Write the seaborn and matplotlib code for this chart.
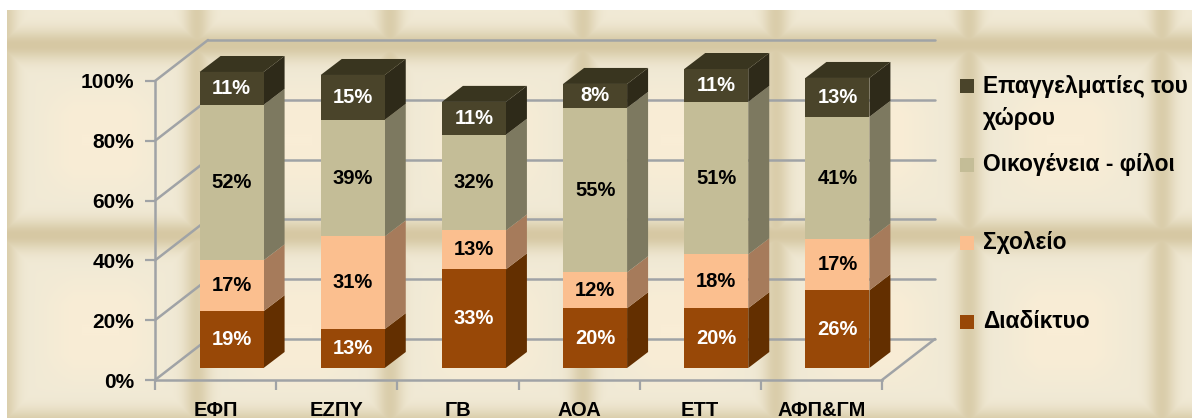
import numpy as np
import matplotlib
matplotlib.use("Agg")
import matplotlib.pyplot as plt
from matplotlib.patches import Polygon, Rectangle
import seaborn as sns

categories = ["ΕΦΠ", "ΕΖΠΥ", "ΓΒ", "ΑΟΑ", "ΕΤΤ", "ΑΦΠ&ΓΜ"]
diadiktyo = [19, 13, 33, 20, 20, 26]
scholeio = [17, 31, 13, 12, 18, 17]
oikogeneia = [52, 39, 32, 55, 51, 41]
epaggelmaties = [11, 15, 11, 8, 11, 13]
y_ticks = [0, 20, 40, 60, 80, 100]
tick_labels = ["0%", "20%", "40%", "60%", "80%", "100%"]

series = [
    ("Διαδίκτυο", diadiktyo, "#984807", "#632F00", "white"),
    ("Σχολείο", scholeio, "#FBBF8F", "#A67B5B", "black"),
    ("Οικογένεια - φίλοι", oikogeneia, "#C4BD97", "#7D7960", "black"),
    ("Επαγγελματίες του\nχώρου", epaggelmaties, "#4A442A", "#2E2A19", "white"),
]
top_color = "#39351F"
grid_color = "#A0A3A6"
FONT = ["Liberation Sans", "DejaVu Sans"]

W, H = 1192, 418
sns.set_theme(style="white")
plt.rcParams["font.family"] = FONT
plt.rcParams["font.weight"] = "bold"
fig = plt.figure(figsize=(W / 100, H / 100), dpi=100, facecolor="white")


def rect(x0, y_top, x1, y_bot):
    return [x0 / W, 1 - y_bot / H, (x1 - x0) / W, (y_bot - y_top) / H]


# --- parchment background
bg = fig.add_axes(rect(7, 10, W, H))
bg.set_axis_off()
xx = np.arange(7, W) + 0.5
yy = np.arange(10, H) + 0.5


def bands(c, period, phase, width):
    d = np.abs((c - phase + period / 2) % period - period / 2)
    dark = np.exp(-(d / width) ** 2)
    inner = np.clip((d - 30) / 40, 0, 1)
    return dark, inner


dx_b, ix = bands(xx, 193.0, 197.0, 13.0)
dy_b, iy = bands(yy, 190.0, 45.0, 15.0)
DX, DY = np.meshgrid(dx_b, dy_b)
IX, IY = np.meshgrid(ix, iy)
pale = np.array([241, 234, 214.0])
warm = np.array([249, 237, 214.0])
tan = np.array([214, 200, 163.0])
center = (IX * IY)[..., None]
img = pale * (1 - center) + warm * center
dark = np.clip(np.maximum(DX * 0.85, DY)[..., None], 0, 1)
img = img * (1 - dark) + tan * dark
bg.imshow(img.astype(np.uint8), aspect="auto", interpolation="bilinear")

# --- axis plane (front edge of the 3D box)
ax = fig.add_axes(rect(155, 81, 882, 380), facecolor="none")
ax.set_xlim(-0.5, 5.5)
ax.set_ylim(0, 100)
ax.set_xticks(range(6), categories)
ax.set_xticks(np.arange(-0.5, 6), minor=True)
ax.set_yticks(y_ticks, tick_labels)
ax.tick_params(axis="x", which="major", length=0, pad=15, labelsize=14.5, colors="black")
ax.tick_params(axis="x", which="minor", length=7, width=1.6, color=grid_color, bottom=True)
ax.tick_params(axis="y", length=7, width=1.6, color=grid_color, left=True, pad=8, labelsize=15, labelcolor="black")
for s in ("top", "right"):
    ax.spines[s].set_visible(False)
for s in ("left", "bottom"):
    ax.spines[s].set_color(grid_color)
    ax.spines[s].set_linewidth(1.8)

px_x = 727 / 6
px_y = 299 / 100
wall_dx, wall_dy = 53 / px_x, 41 / px_y
lk = dict(color=grid_color, lw=1.8, clip_on=False, zorder=1, solid_capstyle="round")
for v in y_ticks:
    ax.plot([-0.5, -0.5 + wall_dx], [v, v + wall_dy], **lk)
    ax.plot([-0.5 + wall_dx, 5.5 + wall_dx], [v + wall_dy, v + wall_dy], **lk)
ax.plot([5.5, 5.5 + wall_dx], [0, wall_dy], **lk)

# --- bars (front plane set back from the axis plane)
bx = fig.add_axes(rect(171, 69, 898, 368), facecolor="none")
bx.set_zorder(ax.get_zorder() + 1)
bar_w = 64 / px_x
side_dx, side_dy = 21 / px_x, 16 / px_y
bottom = np.zeros(len(categories))
for name, vals, col, side, txt in series:
    vals = np.asarray(vals, float)
    sns.barplot(x=categories, y=vals, bottom=bottom, color=col, saturation=1,
                width=bar_w, ax=bx, linewidth=0, zorder=3)
    for i, (b, v) in enumerate(zip(bottom, vals)):
        r = i + bar_w / 2
        bx.add_patch(Polygon([(r, b), (r + side_dx, b + side_dy),
                              (r + side_dx, b + v + side_dy), (r, b + v)],
                             closed=True, fc=side, ec="none", zorder=2, clip_on=False))
        bx.text(i, b + v / 2, f"{int(v)}%", ha="center", va="center", color=txt,
                fontsize=14.5, fontweight="bold", zorder=5)
    bottom = bottom + vals
for i, t in enumerate(bottom):
    l, r = i - bar_w / 2, i + bar_w / 2
    bx.add_patch(Polygon([(l, t), (r, t), (r + side_dx, t + side_dy), (l + side_dx, t + side_dy)],
                         closed=True, fc=top_color, ec="none", zorder=2, clip_on=False))
bx.set_xlim(-0.5, 5.5)
bx.set_ylim(0, 100)
bx.set_axis_off()

# --- legend
legend_y = [322, 243, 165, 86]
for (name, vals, col, side, txt), y in zip(series, legend_y):
    fig.add_artist(Rectangle((960 / W, 1 - (y + 7) / H), 14 / W, 14 / H, transform=fig.transFigure,
                             fc=col, ec="none"))
    fig.text(983 / W, 1 - y / H if "\n" not in name else 1 - 102 / H, name, ha="left", va="center",
             fontsize=16.4, fontweight="bold", color="black", linespacing=1.5)

fig.savefig("out.png", dpi=100, facecolor="white")
